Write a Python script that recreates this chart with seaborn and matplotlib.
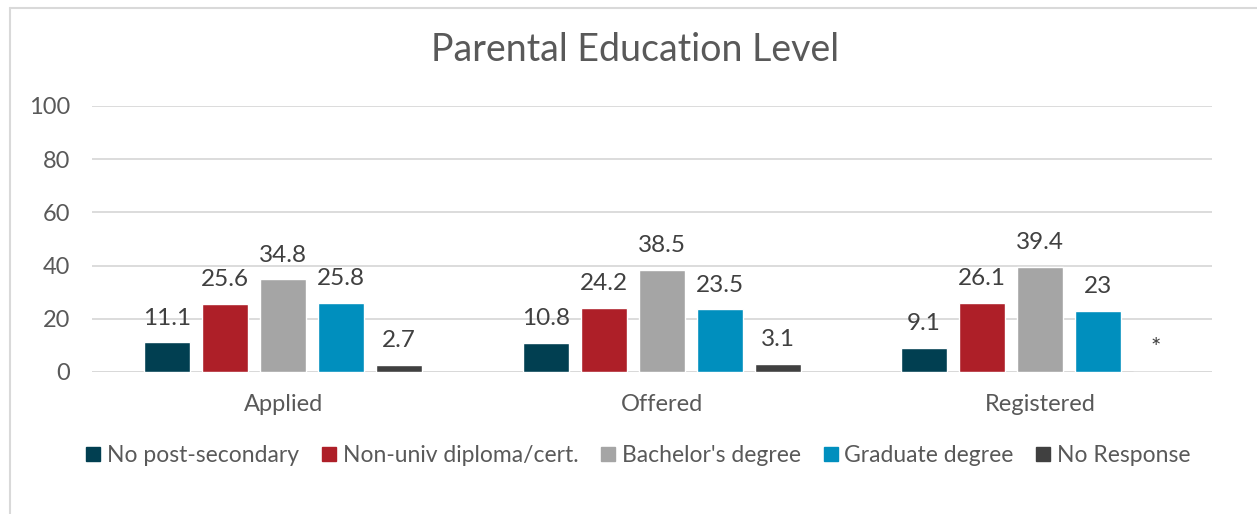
import pandas as pd
import seaborn as sns
import matplotlib.pyplot as plt
from matplotlib.lines import Line2D

# data
stages = ["Applied", "Offered", "Registered"]
levels = ["No post-secondary", "Non-univ diploma/cert.", "Bachelor's degree",
          "Graduate degree", "No Response"]
no_post = [11.1, 10.8, 9.1]
non_univ = [25.6, 24.2, 26.1]
bachelor = [34.8, 38.5, 39.4]
graduate = [25.8, 23.5, 23.0]
no_resp = [2.7, 3.1, 0.0]   # registered value suppressed, shown as "*"

palette = ["#013f51", "#ae1f28", "#a5a5a5", "#008fbe", "#404040"]
text_col = "#595959"

rows = []
for lvl, vals in zip(levels, [no_post, non_univ, bachelor, graduate, no_resp]):
    for st, v in zip(stages, vals):
        rows.append({"stage": st, "level": lvl, "pct": v})
df = pd.DataFrame(rows)

sns.set_theme(style="white")
plt.rcParams['font.family'] = ['Lato', 'DejaVu Sans']
plt.rcParams['text.color'] = text_col

fig = plt.figure(figsize=(12.57, 5.14), dpi=100)
ax = fig.add_axes([0.0732, 0.2763, 0.891, 0.5175])

sns.barplot(data=df, x="stage", y="pct", hue="level", hue_order=levels,
            palette=palette, width=0.766, gap=0.206, saturation=1,
            legend=False, ax=ax)

for cont in ax.containers:
    labs = ["*" if b.get_height() == 0 else f"{b.get_height():g}" for b in cont]
    ax.bar_label(cont, labels=labs, padding=10, fontsize=17.5, color="#404040")

ax.set_xlim(-0.505, 2.454)
ax.set_ylim(0, 100)
ax.set_yticks(range(0, 101, 20))
ax.yaxis.grid(True, color="#d9d9d9", linewidth=1.3)
ax.set_axisbelow(True)
sns.despine(ax=ax, left=True, bottom=True)
ax.axhline(0, color="#d9d9d9", linewidth=1.3, zorder=0)
ax.set_xlabel("")
ax.set_ylabel("")
ax.tick_params(axis="y", length=0, pad=16, labelsize=17, labelcolor=text_col)
ax.tick_params(axis="x", length=0, pad=16, labelsize=17, labelcolor=text_col)

fig.text(0.505, 1 - 50 / 514, "Parental Education Level", ha="center",
         va="center", fontsize=27, color=text_col)

handles = [Line2D([], [], marker="s", linestyle="", markersize=9.5,
                  markerfacecolor=c, markeredgecolor=c) for c in palette]
fig.legend(handles, levels, loc="center", bbox_to_anchor=(0.508, 1 - 456 / 514),
           ncol=5, frameon=False, fontsize=16.5, handlelength=0.6,
           handletextpad=0.3, columnspacing=1.0, labelcolor=text_col)

# outer chart border
fig.add_artist(Line2D([10 / 1257, 10 / 1257], [0, 1 - 8 / 514],
                      transform=fig.transFigure, color="#d9d9d9", linewidth=1.5))
fig.add_artist(Line2D([10 / 1257, 1], [1 - 8 / 514, 1 - 8 / 514],
                      transform=fig.transFigure, color="#d9d9d9", linewidth=1.5))

fig.savefig("out.png", dpi=100, facecolor="white")
